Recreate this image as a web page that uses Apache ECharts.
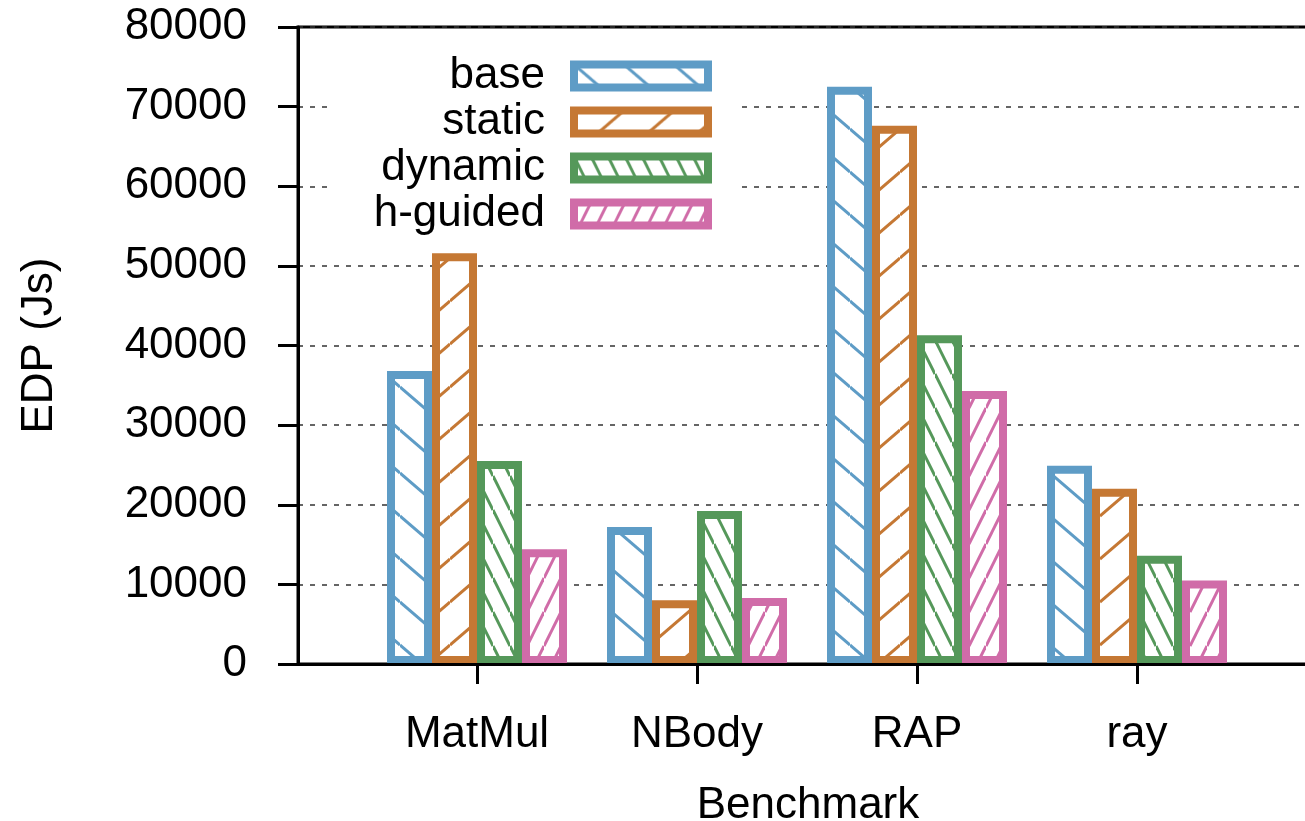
<!DOCTYPE html>
<html>
<head>
<meta charset="utf-8">
<script src="https://cdn.jsdelivr.net/npm/echarts@6/dist/echarts.min.js"></script>
<style>
  html, body { margin: 0; padding: 0; background: #fff; }
  #main { width: 1305px; height: 821px; }
</style>
</head>
<body>
<div id="main"></div>
<script>
// ---------- data ----------
const categories = ['MatMul', 'NBody', 'RAP', 'ray']
const seriesNames = ['base', 'static', 'dynamic', 'h-guided']
const baseEDP = [36800, 17200, 72500, 24900]
const staticEDP = [51600, 8000, 67600, 22000]
const dynamicEDP = [25500, 19200, 41300, 13600]
const hGuidedEDP = [14400, 8300, 34300, 10500]
const yTicks = [0, 80000, 10000] // min, max, step

const colors = ['#5e9cc6', '#c57834', '#55985a', '#d06ca8']
const FONT = 'Liberation Sans, Arial, Helvetica, sans-serif'

// hatch fill (white background + coloured diagonal lines)
function hatch(color, w, h, dir, lw) {
  let c = document.createElement('canvas')
  c.width = w
  c.height = h
  let ctx = c.getContext('2d')
  ctx.fillStyle = '#fff'
  ctx.fillRect(0, 0, w, h)
  ctx.strokeStyle = color
  ctx.lineWidth = lw
  for (let m = -1; m <= 1; m++) {
    ctx.beginPath()
    if (dir === '\\') {
      ctx.moveTo(0, m * h)
      ctx.lineTo(w, h + m * h)
    } else {
      ctx.moveTo(0, h + m * h)
      ctx.lineTo(w, m * h)
    }
    ctx.stroke()
  }
  return { image: c, repeat: 'repeat' }
}

const fills = [
  hatch(colors[0], 50, 43, '\\', 3),
  hatch(colors[1], 50, 43, '/', 3),
  hatch(colors[2], 17, 34, '\\', 3),
  hatch(colors[3], 17, 34, '/', 3)
]

function barSeries(i, data) {
  return {
    name: seriesNames[i],
    type: 'bar',
    xAxisIndex: 1,
    yAxisIndex: 1,
    data: data,
    barWidth: 45,
    barGap: '0%',
    itemStyle: {
      color: fills[i],
      borderColor: colors[i],
      borderWidth: 8
    }
  }
}

let myChart = echarts.init(document.querySelector('#main'))
let option = {
  animation: false,
  backgroundColor: '#fff',
  textStyle: { fontFamily: FONT },
  grid: [
    // frame grid (axes, grid lines, border)
    {
      left: 298, top: 27, width: 1020, height: 637,
      outerBoundsMode: 'none', containLabel: false,
      show: true, borderColor: '#000', borderWidth: 3
    },
    // bar grid (category bands 220px wide)
    { left: 367, top: 27, width: 880, height: 637, outerBoundsMode: 'none', containLabel: false }
  ],
  xAxis: [
    {
      type: 'value',
      gridIndex: 0,
      min: 0,
      max: 1,
      z: 10,
      name: 'Benchmark',
      nameLocation: 'middle',
      nameGap: 120,
      nameTextStyle: { fontSize: 44, color: '#000', fontFamily: FONT },
      axisLine: { show: true, lineStyle: { color: '#000', width: 3 } },
      axisTick: { show: false },
      axisLabel: { show: false },
      splitLine: { show: false }
    },
    {
      type: 'category',
      gridIndex: 1,
      data: categories,
      z: 10,
      axisLine: { show: false },
      axisTick: {
        show: true,
        alignWithLabel: true,
        inside: false,
        length: 20,
        lineStyle: { color: '#000', width: 3 }
      },
      axisLabel: { fontSize: 44, color: '#000', margin: 49, fontFamily: FONT }
    }
  ],
  yAxis: [
    {
      type: 'value',
      gridIndex: 0,
      min: yTicks[0],
      max: yTicks[1],
      interval: yTicks[2],
      name: 'EDP (Js)',
      nameLocation: 'middle',
      nameGap: 236,
      nameTextStyle: { fontSize: 44, color: '#000', fontFamily: FONT },
      axisLine: { show: true, lineStyle: { color: '#000', width: 3 } },
      axisTick: { show: true, inside: false, length: 20, lineStyle: { color: '#000', width: 3 } },
      axisLabel: {
        fontSize: 44,
        color: '#000',
        margin: 51,
        fontFamily: FONT,
        formatter: v => String(v)
      },
      splitLine: {
        show: true,
        lineStyle: { color: '#333', width: 1.5, type: [5, 7] }
      }
    },
    {
      type: 'value',
      gridIndex: 1,
      min: yTicks[0],
      max: yTicks[1],
      show: false
    }
  ],
  legend: {
    orient: 'vertical',
    align: 'right',
    right: 568,
    top: 45,
    padding: [8, 25, 8, 40],
    backgroundColor: '#fff',
    itemWidth: 134,
    itemHeight: 23,
    itemGap: 0,
    icon: 'rect',
    data: seriesNames,
    itemStyle: { borderWidth: 8 },
    textStyle: {
      fontSize: 44,
      color: '#000',
      lineHeight: 46,
      padding: [0, 24, 0, 0],
      fontFamily: FONT
    }
  },
  series: [
    barSeries(0, baseEDP),
    barSeries(1, staticEDP),
    barSeries(2, dynamicEDP),
    barSeries(3, hGuidedEDP)
  ]
}
myChart.setOption(option)
</script>
</body>
</html>
